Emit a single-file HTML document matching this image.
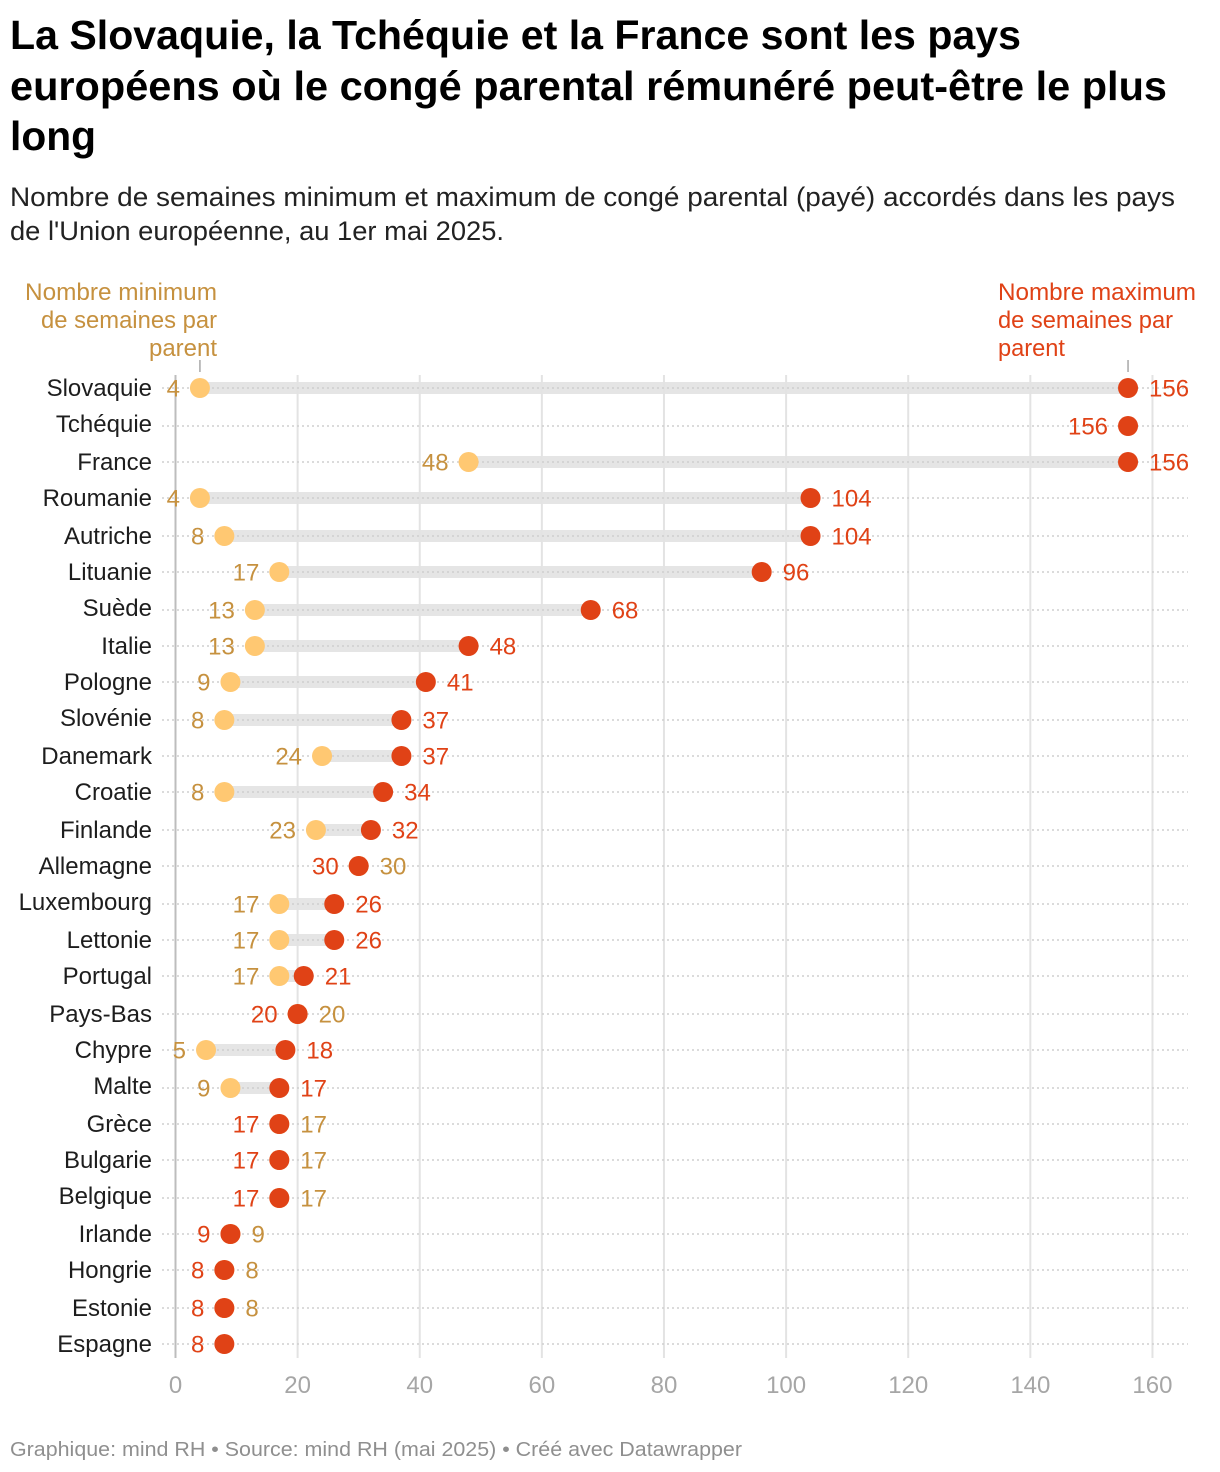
<!DOCTYPE html>
<html lang="fr">
<head>
<meta charset="utf-8">
<title>Congé parental rémunéré en Europe</title>
<style>
html,body{margin:0;padding:0;background:#fff;}
body{width:1220px;height:1472px;overflow:hidden;}
svg{display:block;}
text{font-family:"Liberation Sans",Arial,sans-serif;}
</style>
</head>
<body>
<svg id="chart" xmlns="http://www.w3.org/2000/svg" width="1220" height="1472" viewBox="0 0 1220 1472">
  <g font-weight="700" font-size="41" fill="#000">
    <text x="10" y="49" textLength="1011" lengthAdjust="spacingAndGlyphs">La Slovaquie, la Tchéquie et la France sont les pays</text>
    <text x="10" y="100" textLength="1157" lengthAdjust="spacingAndGlyphs">européens où le congé parental rémunéré peut-être le plus</text>
    <text x="10" y="150" textLength="86" lengthAdjust="spacingAndGlyphs">long</text>
  </g>
  <g font-size="27" fill="#222">
    <text x="10" y="206" textLength="1165" lengthAdjust="spacingAndGlyphs">Nombre de semaines minimum et maximum de congé parental (payé) accordés dans les pays</text>
    <text x="10" y="240" textLength="494" lengthAdjust="spacingAndGlyphs">de l'Union européenne, au 1er mai 2025.</text>
  </g>
  <g font-size="24" fill="#c6913f">
    <text x="25" y="300" textLength="192" lengthAdjust="spacingAndGlyphs">Nombre minimum</text>
    <text x="41" y="328" textLength="176" lengthAdjust="spacingAndGlyphs">de semaines par</text>
    <text x="149" y="356" textLength="68" lengthAdjust="spacingAndGlyphs">parent</text>
  </g>
  <g font-size="24" fill="#e04216">
    <text x="998" y="300" textLength="198" lengthAdjust="spacingAndGlyphs">Nombre maximum</text>
    <text x="998" y="328" textLength="175" lengthAdjust="spacingAndGlyphs">de semaines par</text>
    <text x="998" y="356" textLength="67" lengthAdjust="spacingAndGlyphs">parent</text>
  </g>
  <g id="plot"></g>
  <text x="10" y="1456" font-size="20" fill="#8f8f8f" textLength="732" lengthAdjust="spacingAndGlyphs">Graphique: mind RH • Source: mind RH (mai 2025) • Créé avec Datawrapper</text>
</svg>
<script>
const countries = ["Slovaquie","Tchéquie","France","Roumanie","Autriche","Lituanie","Suède","Italie","Pologne","Slovénie","Danemark","Croatie","Finlande","Allemagne","Luxembourg","Lettonie","Portugal","Pays-Bas","Chypre","Malte","Grèce","Bulgarie","Belgique","Irlande","Hongrie","Estonie","Espagne"];
const minWeeks = [4,null,48,4,8,17,13,13,9,8,24,8,23,30,17,17,17,20,5,9,17,17,17,9,8,8,null];
const maxWeeks = [156,156,156,104,104,96,68,48,41,37,37,34,32,30,26,26,21,20,18,17,17,17,17,9,8,8,8];
const xTicks = [0,20,40,60,80,100,120,140,160];
const annotatedMin = 4;
const annotatedMax = 156;

const SVGNS = "http://www.w3.org/2000/svg";
const plot = document.getElementById("plot");
const xScale = function (v) { return 175.5 + v * 6.106; };
const yRaw = function (i) { return 388 + i * (1344 - 388) / (countries.length - 1); };
const yScale = function (i) { return Math.round((yRaw(i) + 0.5) / 2) * 2; };
const yLabel = function (i) { return Math.round(yRaw(i) / 2) * 2; };
const plotTop = 375, plotBottom = 1358;

function make(tag, parent, props, content) {
  const el = document.createElementNS(SVGNS, tag);
  for (const k in props) el.setAttribute(k, props[k]);
  if (content !== undefined) el.textContent = content;
  parent.appendChild(el);
  return el;
}

// range bars (below everything)
const barLayer = make("g", plot, {});


countries.forEach(function (c, i) {
  if (minWeeks[i] === null || minWeeks[i] === maxWeeks[i]) return;
  const bar = make("rect", barLayer, {x: xScale(minWeeks[i]), y: yScale(i) - 6, width: xScale(maxWeeks[i]) - xScale(minWeeks[i]), height: 12, fill: "#e5e5e5"});
  
  
});

// vertical grid
const gridLayer = make("g", plot, {});


xTicks.forEach(function (t) {
  const line = make("line", gridLayer, {x1: xScale(t), x2: xScale(t), y1: plotTop, y2: plotBottom, stroke: t === 0 ? "#bdbdbd" : "#e3e3e3", "stroke-width": 2});
  
  
  const label = make("text", gridLayer, {x: xScale(t), y: 1393, "text-anchor": "middle", "font-size": 24, fill: "#a6a6a6"}, String(t));
  
  
});

// row dotted lines and labels
const rowLayer = make("g", plot, {});


countries.forEach(function (c, i) {
  const y = yScale(i);
  const dotted = make("line", rowLayer, {x1: 162, x2: 1188, y1: y, y2: y, stroke: "#cfcfcf", "stroke-width": 1.5, "stroke-dasharray": "2 3"});
  
  
  const label = make("text", rowLayer, {x: 152, y: yLabel(i) + 8, "text-anchor": "end", "font-size": 24, fill: "#1d1d1d"}, c);
  
  
});

// annotation ticks
const tickLayer = make("g", plot, {});


[annotatedMin, annotatedMax].forEach(function (v) {
  const tick = make("line", tickLayer, {x1: xScale(v), x2: xScale(v), y1: 360, y2: 372, stroke: "#a8a8a8", "stroke-width": 1.5});
  
  
});

// dots and value labels
const MIN_COLOR = "#ffc872", MAX_COLOR = "#e04216", MIN_TEXT = "#c6913f";
const markLayer = make("g", plot, {});


countries.forEach(function (c, i) {
  const y = yScale(i), mn = minWeeks[i], mx = maxWeeks[i];
  const hasMin = mn !== null;
  const xMax = xScale(mx);
  if (hasMin) {
    const xMin = xScale(mn);
    const minDot = make("circle", markLayer, {cx: xMin, cy: y, r: 10, fill: MIN_COLOR});
    
    
    const same = mn === mx;
    const minLabel = make("text", markLayer, {x: same ? xMin + 21 : xMin - 20, y: y + 8.5, "text-anchor": same ? "start" : "end", "font-size": 24, fill: MIN_TEXT}, String(mn));
    
    
  }
  const maxDot = make("circle", markLayer, {cx: xMax, cy: y, r: 10, fill: MAX_COLOR});
  
  
  const left = !hasMin || mn === mx;
  const maxLabel = make("text", markLayer, {x: left ? xMax - 20 : xMax + 21, y: y + 8.5, "text-anchor": left ? "end" : "start", "font-size": 24, fill: MAX_COLOR}, String(mx));
  
  
});
</script>
</body>
</html>
